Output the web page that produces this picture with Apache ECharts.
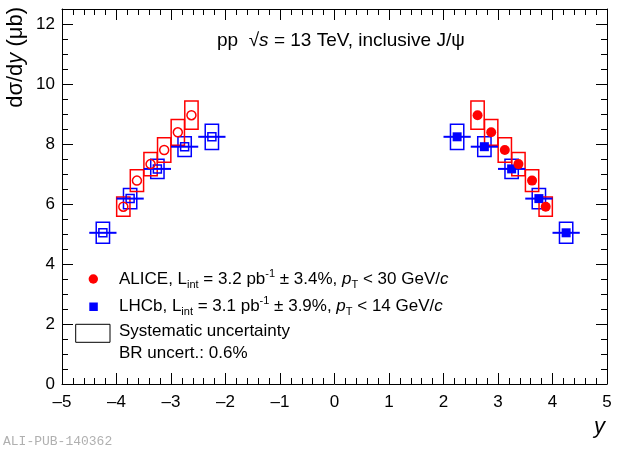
<!DOCTYPE html>
<html><head><meta charset="utf-8">
<script src="https://cdn.jsdelivr.net/npm/echarts@6/dist/echarts.min.js"></script>
<style>html,body{margin:0;padding:0;background:#fff}#c{width:620px;height:449px}</style>
</head><body><div id="c"></div>
<script>
// ---- data ----
const aliceRapPos = [2.625, 2.875, 3.125, 3.375, 3.625, 3.875];
const aliceValPos = [8.96, 8.39, 7.80, 7.33, 6.78, 5.91];
const aliceSysPos = [0.47, 0.43, 0.41, 0.39, 0.36, 0.32];
const aliceRapNeg = [-2.625, -2.875, -3.125, -3.375, -3.625, -3.875];
const aliceValNeg = [8.96, 8.39, 7.80, 7.33, 6.78, 5.91];
const aliceSysNeg = [0.47, 0.43, 0.41, 0.39, 0.36, 0.32];
const lhcbRapPos = [2.25, 2.75, 3.25, 3.75, 4.25];
const lhcbValPos = [8.24, 7.91, 7.17, 6.18, 5.04];
const lhcbSysPos = [0.42, 0.33, 0.32, 0.34, 0.35];
const lhcbBinHalfPos = [0.25, 0.25, 0.25, 0.25, 0.25];
const lhcbRapNeg = [-2.25, -2.75, -3.25, -3.75, -4.25];
const lhcbValNeg = [8.24, 7.91, 7.17, 6.18, 5.04];
const lhcbSysNeg = [0.42, 0.33, 0.32, 0.34, 0.35];
const lhcbBinHalfNeg = [0.25, 0.25, 0.25, 0.25, 0.25];
const xTickLabels = ['\u20135','\u20134','\u20133','\u20132','\u20131','0','1','2','3','4','5'];
const yTickLabels = ['0','2','4','6','8','10','12'];

// ---- helpers ----
const FONT = '"Liberation Sans", Arial, Helvetica, sans-serif';
const RED = '#ff0000', BLUE = '#0000ff';
const BOX_HALF = 0.122;

function zip3(a, b, c) { return a.map((v, i) => [v, b[i], c[i]]); }
function zip2(a, b) { return a.map((v, i) => [v, b[i]]); }

function boxRender(color) {
  return function (params, api) {
    const x = api.value(0), y = api.value(1), s = api.value(2);
    const p1 = api.coord([x - BOX_HALF, y + s]);
    const p2 = api.coord([x + BOX_HALF, y - s]);
    return { type: 'rect', shape: { x: p1[0], y: p1[1], width: p2[0] - p1[0], height: p2[1] - p1[1] },
      style: { fill: 'none', stroke: color, lineWidth: 1.5 } };
  };
}
function hbarRender(color) {
  return function (params, api) {
    const x = api.value(0), y = api.value(1), h = api.value(2);
    const p1 = api.coord([x - h, y]);
    const p2 = api.coord([x + h, y]);
    return { type: 'line', shape: { x1: p1[0], y1: p1[1], x2: p2[0], y2: p2[1] },
      style: { stroke: color, lineWidth: 2 } };
  };
}

const xLabelFmt = v => { const i = Math.round(v + 5); return (Math.abs(v - Math.round(v)) < 1e-6 && i >= 0 && i < xTickLabels.length) ? xTickLabels[i] : ''; };
const yLabelFmt = v => { const i = Math.round(v / 2); return (Math.abs(v / 2 - i) < 1e-6 && i >= 0 && i < yTickLabels.length) ? yTickLabels[i] : ''; };

function xAx(pos, labels) {
  return { type: 'value', min: -5, max: 5, interval: 1, position: pos,
    axisLine: { show: true, onZero: false, lineStyle: { color: '#000', width: 1 } },
    axisTick: { show: true, inside: true, length: 11, lineStyle: { color: '#000', width: 1 } },
    minorTick: { show: true, splitNumber: 5, length: 6, lineStyle: { color: '#000', width: 1 } },
    splitLine: { show: false }, minorSplitLine: { show: false },
    axisLabel: { show: labels, fontSize: 17, color: '#000', margin: 10, fontFamily: FONT, formatter: xLabelFmt } };
}
function yAx(pos, interval, len, labels, line) {
  return { type: 'value', min: 0, max: 12.5, interval: interval, position: pos,
    axisLine: { show: line, onZero: false, lineStyle: { color: '#000', width: 1 } },
    axisTick: { show: true, inside: true, length: len, lineStyle: { color: '#000', width: 1 } },
    splitLine: { show: false },
    axisLabel: { show: labels, fontSize: 17, color: '#000', margin: 7, fontFamily: FONT, formatter: yLabelFmt, showMaxLabel: false } };
}

const richBase = {
  n: { fontSize: 17, fontFamily: FONT, lineHeight: 22, fill: '#000', color: '#000' },
  i: { fontSize: 17, fontFamily: FONT, fontStyle: 'italic', lineHeight: 22, color: '#000' },
  sub: { fontSize: 11, fontFamily: FONT, lineHeight: 11, verticalAlign: 'bottom', color: '#000' },
  sup: { fontSize: 11, fontFamily: FONT, lineHeight: 11, verticalAlign: 'top', color: '#000' }
};
function txt(x, y, text, rich, extra) {
  return Object.assign({ type: 'text', x: x, y: y, silent: true,
    style: { text: text, rich: rich, align: 'left', textAlign: 'left', verticalAlign: 'middle', textVerticalAlign: 'middle', fill: '#000' } }, extra || {});
}

const titleRich = {
  n: { fontSize: 19, fontFamily: FONT, lineHeight: 24, color: '#000' },
  i: { fontSize: 19, fontFamily: FONT, fontStyle: 'italic', lineHeight: 24, color: '#000' }
};
const ytRich = {
  n: { fontSize: 22, fontFamily: FONT, lineHeight: 26, color: '#000' },
  i: { fontSize: 22, fontFamily: FONT, fontStyle: 'italic', lineHeight: 26, color: '#000' }
};

const chart = echarts.init(document.getElementById('c'), null, { renderer: 'canvas' });
chart.setOption({
  animation: false,
  backgroundColor: '#fff',
  grid: { left: 62, right: 13, top: 9, bottom: 65, containLabel: false },
  xAxis: [xAx('bottom', true), xAx('top', false)],
  yAxis: [yAx('left', 2, 11, true, true), yAx('left', 0.5, 6, false, false),
          yAx('right', 2, 11, false, true), yAx('right', 0.5, 6, false, false)],
  series: [
    { type: 'custom', renderItem: boxRender(BLUE), data: zip3(lhcbRapPos, lhcbValPos, lhcbSysPos), z: 2, silent: true },
    { type: 'custom', renderItem: boxRender(BLUE), data: zip3(lhcbRapNeg, lhcbValNeg, lhcbSysNeg), z: 2, silent: true },
    { type: 'custom', renderItem: boxRender(RED), data: zip3(aliceRapPos, aliceValPos, aliceSysPos), z: 3, silent: true },
    { type: 'custom', renderItem: boxRender(RED), data: zip3(aliceRapNeg, aliceValNeg, aliceSysNeg), z: 3, silent: true },
    { type: 'custom', renderItem: hbarRender(BLUE), data: zip3(lhcbRapPos, lhcbValPos, lhcbBinHalfPos), z: 4, silent: true },
    { type: 'custom', renderItem: hbarRender(BLUE), data: zip3(lhcbRapNeg, lhcbValNeg, lhcbBinHalfNeg), z: 4, silent: true },
    { type: 'scatter', data: zip2(lhcbRapPos, lhcbValPos), symbol: 'rect', symbolSize: 9, z: 5, silent: true,
      itemStyle: { color: BLUE, opacity: 1 } },
    { type: 'scatter', data: zip2(lhcbRapNeg, lhcbValNeg), symbol: 'rect', symbolSize: 8, z: 5, silent: true,
      itemStyle: { color: 'rgba(255,255,255,0)', borderColor: BLUE, borderWidth: 1.5, opacity: 1 } },
    { type: 'scatter', data: zip2(aliceRapPos, aliceValPos), symbol: 'circle', symbolSize: 10, z: 6, silent: true,
      itemStyle: { color: RED, opacity: 1 } },
    { type: 'scatter', data: zip2(aliceRapNeg, aliceValNeg), symbol: 'circle', symbolSize: 9, z: 6, silent: true,
      itemStyle: { color: 'rgba(255,255,255,0)', borderColor: RED, borderWidth: 1.5, opacity: 1 } }
  ],
  graphic: [
    txt(217, 41, '{n|pp  \u221A}{i|s}{n| = 13 TeV, inclusive J/\u03C8}', titleRich),
    { type: 'text', x: 16, y: 7, rotation: Math.PI / 2, silent: true,
      style: { text: '{n|d\u03C3/d}{i|y}{n| (\u03BCb)}', rich: ytRich, align: 'right', textAlign: 'right', verticalAlign: 'middle', textVerticalAlign: 'middle', fill: '#000' } },
    { type: 'text', x: 605, y: 427, silent: true,
      style: { text: 'y', font: 'italic 22px ' + FONT, fill: '#000', align: 'right', textAlign: 'right', verticalAlign: 'middle', textVerticalAlign: 'middle' } },
    { type: 'text', x: 3, y: 442, silent: true,
      style: { text: 'ALI-PUB-140362', font: '13px "Liberation Mono", "DejaVu Sans Mono", monospace', fill: '#b0b0b0', align: 'left', textAlign: 'left', verticalAlign: 'middle', textVerticalAlign: 'middle' } },
    { type: 'circle', shape: { cx: 93.3, cy: 279, r: 4.7 }, style: { fill: RED }, silent: true },
    { type: 'rect', shape: { x: 89.3, y: 302.5, width: 8.5, height: 8.5 }, style: { fill: BLUE }, silent: true },
    { type: 'rect', shape: { x: 75.7, y: 324.3, width: 34.3, height: 18 }, style: { fill: 'none', stroke: '#000', lineWidth: 1 }, silent: true },
    txt(119, 279, '{n|ALICE, L}{sub|int}{n| = 3.2 pb}{sup|-1}{n| \u00B1 3.4%, }{i|p}{sub|T}{n| < 30 GeV/}{i|c}', richBase),
    txt(119, 306, '{n|LHCb, L}{sub|int}{n| = 3.1 pb}{sup|-1}{n| \u00B1 3.9%, }{i|p}{sub|T}{n| < 14 GeV/}{i|c}', richBase),
    txt(119, 331.5, '{n|Systematic uncertainty}', richBase),
    txt(119, 353, '{n|BR uncert.: 0.6%}', richBase)
  ]
});
</script></body></html>
